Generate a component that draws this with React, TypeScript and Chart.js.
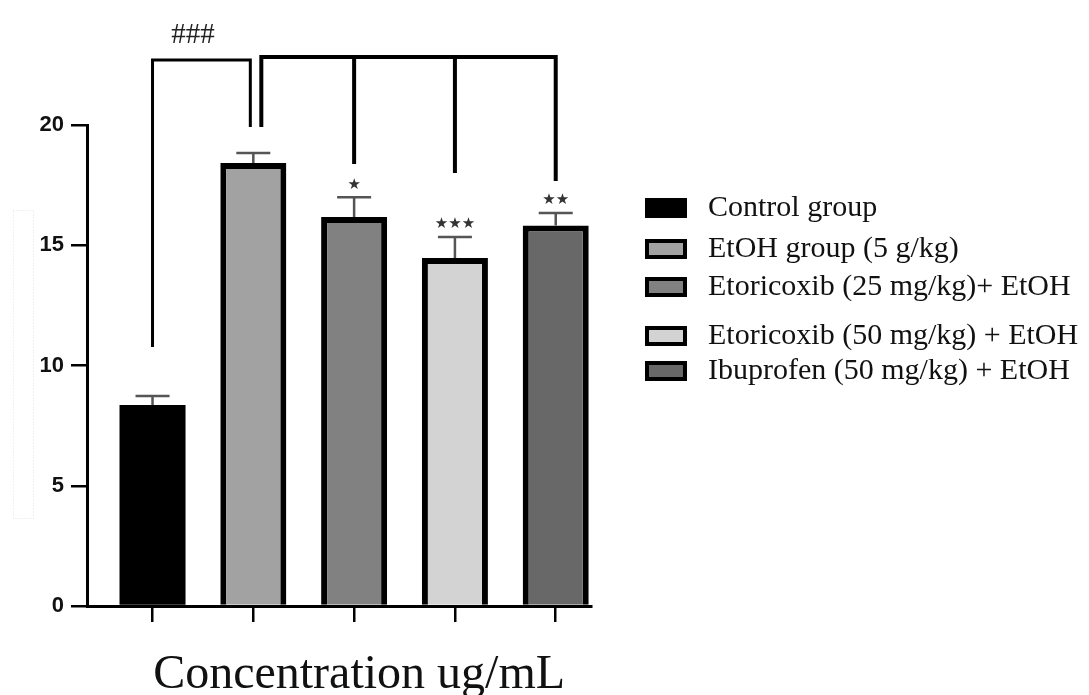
import React, { useEffect, useRef } from "react";
import { Chart, registerables } from "chart.js";

Chart.register(...registerables);

// ---------- data ----------
const categories = [
  "Control group",
  "EtOH group (5 g/kg)",
  "Etoricoxib (25 mg/kg)+ EtOH",
  "Etoricoxib (50 mg/kg) + EtOH",
  "Ibuprofen (50 mg/kg) + EtOH",
];
const means = [8.36, 18.42, 16.17, 14.47, 15.82];
const errors = [0.37, 0.42, 0.83, 0.87, 0.52];
const barColors = ["#000000", "#a2a2a2", "#818181", "#d3d3d3", "#686868"];
const stars = ["", "", "★", "★★★", "★★"];
const yTickValues = [0, 5, 10, 15, 20];
const xTitle = "Concentration ug/mL";
const hashLabel = "###";
// significance brackets (in y data units)
const leftBracketStart = 10.77;
const leftBracketTop = 22.7;
const bracketInnerEnd = 19.92;
const rightBracketTop = 22.83;
const rightBracketDrops = [18.38, 18.0, 17.67]; // for categories 2, 3, 4

const annotationPlugin = {
  id: "annotations",
  afterDraw(chart: any) {
    const { ctx, scales } = chart;
    const x = scales.x;
    const y = scales.y;
    const px = (i: number) => x.getPixelForValue(i);
    const py = (v: number) => y.getPixelForValue(v);
    ctx.save();

    // faint dotted rectangle left of the axis
    ctx.strokeStyle = "#e2e2e2";
    ctx.lineWidth = 1;
    ctx.setLineDash([1, 2]);
    ctx.strokeRect(13.5, 210.5, 20, 308);
    ctx.setLineDash([]);

    // error bars + stars
    means.forEach((m, i) => {
      const cx = px(i);
      const yTop = py(m);
      const yCap = py(m + errors[i]);
      ctx.strokeStyle = "#555";
      ctx.lineWidth = 2.5;
      ctx.beginPath();
      ctx.moveTo(cx, yTop);
      ctx.lineTo(cx, yCap);
      ctx.moveTo(cx - 17, yCap);
      ctx.lineTo(cx + 17, yCap);
      ctx.stroke();
      if (stars[i]) {
        ctx.font = '15px "DejaVu Sans"';
        ctx.fillStyle = "#333";
        ctx.textAlign = "center";
        ctx.textBaseline = "middle";
        ctx.fillText(stars[i], cx, yCap - 12.5);
      }
    });

    // left bracket (control vs EtOH)
    ctx.strokeStyle = "#000";
    ctx.lineCap = "butt";
    ctx.lineJoin = "miter";
    ctx.lineWidth = 3;
    ctx.beginPath();
    ctx.moveTo(px(0), py(leftBracketStart));
    ctx.lineTo(px(0), py(leftBracketTop));
    ctx.lineTo(px(1) - 3, py(leftBracketTop));
    ctx.lineTo(px(1) - 3, py(bracketInnerEnd));
    ctx.stroke();

    // right bracket (EtOH vs treatments)
    ctx.lineWidth = 4;
    ctx.beginPath();
    ctx.moveTo(px(1) + 8, py(bracketInnerEnd));
    ctx.lineTo(px(1) + 8, py(rightBracketTop));
    ctx.lineTo(px(4), py(rightBracketTop));
    ctx.lineTo(px(4), py(rightBracketDrops[2]));
    ctx.moveTo(px(2), py(rightBracketTop));
    ctx.lineTo(px(2), py(rightBracketDrops[0]));
    ctx.moveTo(px(3), py(rightBracketTop));
    ctx.lineTo(px(3), py(rightBracketDrops[1]));
    ctx.stroke();

    // ### label
    ctx.font = '29px "Liberation Serif"';
    ctx.fillStyle = "#222";
    ctx.textAlign = "center";
    ctx.textBaseline = "alphabetic";
    ctx.fillText(hashLabel, (px(0) + px(1)) / 2 - 10, py(leftBracketTop) - 17);

    // x axis title
    ctx.font = '48px "Liberation Serif"';
    ctx.fillStyle = "#111";
    ctx.fillText(xTitle, (px(0) + px(4)) / 2 + 5, 688);

    // legend
    const rowY = [208, 249, 287, 336, 371];
    categories.forEach((label, i) => {
      const cy = rowY[i];
      ctx.fillStyle = "#000";
      ctx.fillRect(645, cy - 10, 42, 20);
      ctx.fillStyle = barColors[i];
      ctx.fillRect(649, cy - 6, 34, 12);
      ctx.font = '30px "Liberation Serif"';
      ctx.fillStyle = "#111";
      ctx.textAlign = "left";
      ctx.textBaseline = "middle";
      ctx.fillText(label, 708, cy);
    });

    ctx.restore();
  },
};

export default function App() {
  const canvasRef = useRef<HTMLCanvasElement | null>(null);

  useEffect(() => {
    const canvas = canvasRef.current;
    if (!canvas) return;
    const chart = new Chart(canvas, {
      type: "bar",
      data: {
        datasets: [
          {
            label: "values",
            data: means.map((m, i) => ({ x: i, y: m })),
            backgroundColor: barColors,
            borderColor: "#000",
            borderWidth: [0, 6, 6, 6, 6],
            borderSkipped: "start",
            barPercentage: 0.655,
            categoryPercentage: 1,
          },
        ],
      },
      options: {
        responsive: false,
        animation: false,
        events: [],
        layout: { padding: { left: 0, top: 125, right: 498, bottom: 0 } },
        plugins: {
          legend: { display: false },
          tooltip: { enabled: false },
          title: { display: false },
        },
        scales: {
          x: {
            type: "linear",
            offset: false,
            min: -0.65,
            max: 4.35,
            afterBuildTicks: (scale: any) => {
              scale.ticks = categories.map((_, i) => ({ value: i }));
            },
            afterFit: (scale: any) => {
              scale.height = 89;
            },
            ticks: { display: false },
            grid: {
              display: true,
              offset: false,
              drawOnChartArea: false,
              drawTicks: true,
              tickLength: 16,
              color: "#000",
              lineWidth: 2.5,
            },
            border: { display: true, color: "#000", width: 3 },
          },
          y: {
            min: 0,
            max: 20,
            afterBuildTicks: (scale: any) => {
              scale.ticks = yTickValues.map((v) => ({ value: v }));
            },
            afterFit: (scale: any) => {
              scale.width = 87;
            },
            ticks: {
              color: "#111",
              padding: 7,
              font: { family: '"Liberation Sans", Arial', size: 22, weight: "bold" },
            },
            grid: {
              display: true,
              drawOnChartArea: false,
              drawTicks: true,
              tickLength: 16,
              color: "#000",
              lineWidth: 2.5,
            },
            border: { display: true, color: "#000", width: 3 },
          },
        },
      },
      plugins: [annotationPlugin],
    });
    return () => chart.destroy();
  }, []);

  return (
    <div style={{ position: "absolute", left: 0, top: 0, width: 1089, height: 695, background: "#fff" }}>
      <canvas ref={canvasRef} width={1089} height={695} />
    </div>
  );
}
